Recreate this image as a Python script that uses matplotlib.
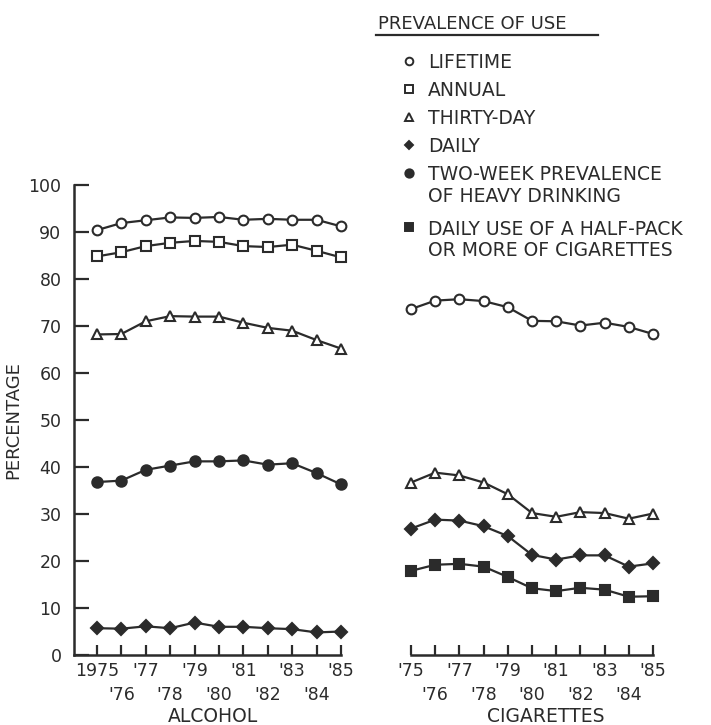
import matplotlib
matplotlib.use("Agg")
from matplotlib import pyplot as plt
from matplotlib.lines import Line2D

# years covered by the survey
years = [1975, 1976, 1977, 1978, 1979, 1980, 1981, 1982, 1983, 1984, 1985]
odd_years = [1975, 1977, 1979, 1981, 1983, 1985]
even_years = [1976, 1978, 1980, 1982, 1984]
left_odd_labels = ["1975", "'77", "'79", "'81", "'83", "'85"]
right_odd_labels = ["'75", "'77", "'79", "'81", "'83", "'85"]
even_labels = ["'76", "'78", "'80", "'82", "'84"]

# alcohol
alc_lifetime = [90.4, 91.9, 92.5, 93.1, 93.0, 93.2, 92.6, 92.8, 92.6, 92.6, 91.2]
alc_annual = [84.8, 85.7, 87.0, 87.7, 88.1, 87.9, 87.0, 86.8, 87.3, 86.0, 84.6]
alc_thirty = [68.2, 68.3, 71.0, 72.1, 72.0, 72.0, 70.7, 69.6, 69.0, 67.0, 65.2]
alc_heavy = [36.8, 37.1, 39.4, 40.3, 41.2, 41.2, 41.4, 40.5, 40.8, 38.7, 36.3]
alc_daily = [5.7, 5.6, 6.1, 5.7, 6.9, 6.0, 6.0, 5.7, 5.5, 4.8, 5.0]

# cigarettes
cig_lifetime = [73.6, 75.4, 75.7, 75.3, 74.0, 71.1, 71.0, 70.1, 70.7, 69.8, 68.3]
cig_thirty = [36.7, 38.8, 38.2, 36.7, 34.2, 30.2, 29.4, 30.4, 30.2, 29.0, 30.1]
cig_daily = [26.9, 28.8, 28.6, 27.4, 25.3, 21.3, 20.3, 21.2, 21.2, 18.8, 19.5]
cig_halfpack = [17.9, 19.2, 19.4, 18.8, 16.6, 14.2, 13.6, 14.3, 13.9, 12.4, 12.5]

legend_labels = ["LIFETIME", "ANNUAL", "THIRTY-DAY", "DAILY",
                 "TWO-WEEK PREVALENCE\nOF HEAVY DRINKING",
                 "DAILY USE OF A HALF-PACK\nOR MORE OF CIGARETTES"]

INK = "#2b2b2b"
plt.rcParams['font.family'] = ['DejaVu Sans']

# marker styles: (marker, filled, size)
styles = {
    'lifetime': ('o', False, 7),
    'annual': ('s', False, 7),
    'thirty': ('^', False, 7.5),
    'daily': ('D', True, 6),
    'heavy': ('o', True, 7.5),
    'halfpack': ('s', True, 7),
}


def draw(ax, vals, key):
    m, filled, ms = styles[key]
    ax.plot(years, vals, color=INK, lw=1.6, marker=m, ms=ms,
            mfc=INK if filled else 'white', mec=INK, mew=1.5, clip_on=False,
            zorder=3)


fig = plt.figure(figsize=(7.11, 7.25), dpi=100)
fig.patch.set_facecolor('white')

axL = fig.add_axes([74/711, 70/725, 267/711, 470/725])
axR = fig.add_axes([411/711, 70/725, 242/711, 470/725])

draw(axL, alc_lifetime, 'lifetime')
draw(axL, alc_annual, 'annual')
draw(axL, alc_thirty, 'thirty')
draw(axL, alc_heavy, 'heavy')
draw(axL, alc_daily, 'daily')

draw(axR, cig_lifetime, 'lifetime')
draw(axR, cig_thirty, 'thirty')
draw(axR, cig_daily, 'daily')
draw(axR, cig_halfpack, 'halfpack')

for ax, odd_labels in ((axL, left_odd_labels), (axR, right_odd_labels)):
    ax.set_ylim(0, 100)
    ax.spines['top'].set_visible(False)
    ax.spines['right'].set_visible(False)
    for s in ax.spines.values():
        s.set_color(INK)
        s.set_linewidth(1.8)
    # odd years on the upper row, even years staggered below
    ax.set_xticks(odd_years, labels=odd_labels)
    ax.set_xticks(even_years, labels=even_labels, minor=True)
    ax.tick_params(axis='x', which='both', direction='in', length=7,
                   width=1.6, color=INK, labelsize=12.5, labelcolor=INK)
    ax.tick_params(axis='x', which='major', pad=5)
    ax.tick_params(axis='x', which='minor', pad=22)
    ax.set_facecolor('none')

axL.set_xlim(1974.06, 1985)
axR.set_xlim(1975, 1985)

axL.set_yticks(range(0, 101, 10))
axL.set_yticklabels([str(v) for v in range(0, 101, 10)])
axL.tick_params(axis='y', direction='in', length=11, width=1.6,
                color=INK, labelsize=12.5, pad=9, labelcolor=INK)
axL.set_ylabel("PERCENTAGE", fontsize=13, color=INK)
axL.yaxis.set_label_coords(-0.195, 0.5)

axR.spines['left'].set_visible(False)
axR.set_yticks([])

axL.set_xlabel("ALCOHOL", fontsize=13.5, color=INK, va='baseline')
axL.xaxis.set_label_coords(0.52, -0.142)
axR.set_xlabel("CIGARETTES", fontsize=13.5, color=INK, va='baseline')
axR.xaxis.set_label_coords(0.555, -0.142)

# legend drawn by hand
W, H = 711.0, 725.0
fig.text(378/W, 1 - 22/H, "PREVALENCE OF USE", fontsize=13, color=INK,
         va='center_baseline', ha='left')
fig.add_artist(Line2D([376/W, 598/W], [1 - 35/H, 1 - 35/H], color=INK, lw=1.6))

keys = ['lifetime', 'annual', 'thirty', 'daily', 'heavy', 'halfpack']
y = 61
for key, lab in zip(keys, legend_labels):
    m, filled, ms = styles[key]
    fig.add_artist(Line2D([409/W], [1 - y/H], marker=m, ms=ms - 1.5,
                          mfc=INK if filled else 'white', mec=INK, mew=1.4,
                          linestyle='none'))
    lines = lab.split("\n")
    for i, line in enumerate(lines):
        fig.text(428/W, 1 - (y + 22*i)/H, line, fontsize=13.5, color=INK,
                 va='center_baseline', ha='left')
    y += 22*(len(lines) - 1) + 28 + (4 if len(lines) > 1 else 0)

fig.savefig("out.png", dpi=100)
